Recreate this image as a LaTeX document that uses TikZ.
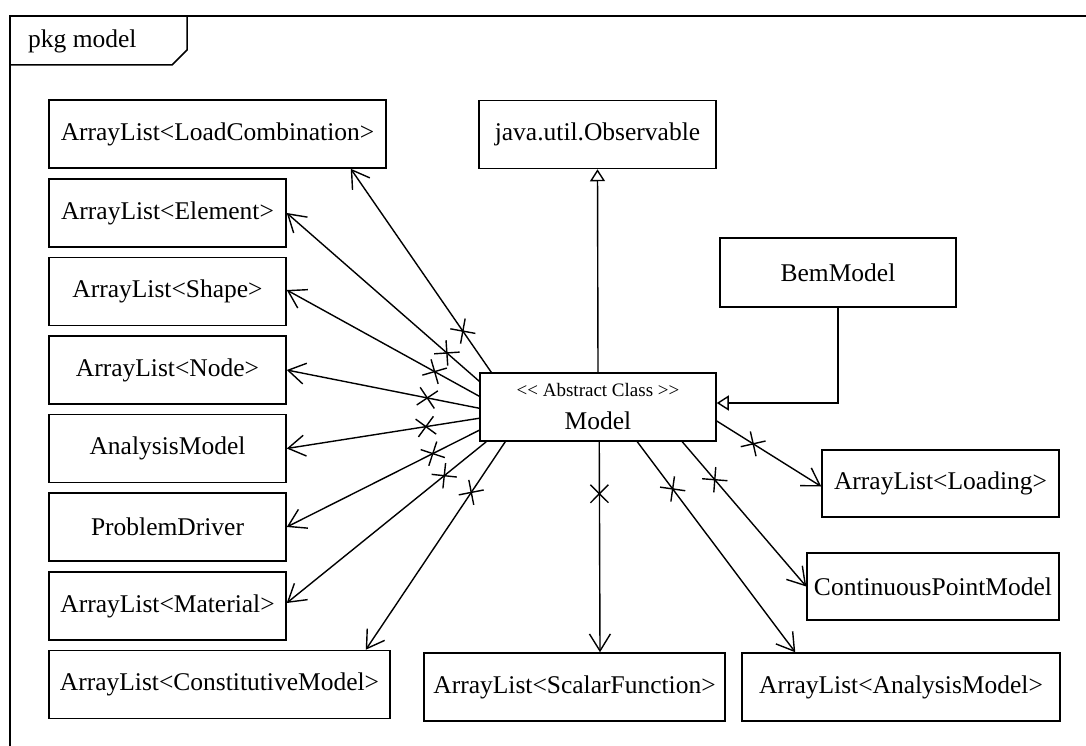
\documentclass[tikz,border=0pt]{standalone}
\usepackage{fontspec}
\setmainfont{Liberation Serif}
\newfontfamily\umlfont{Liberation Serif}
\usetikzlibrary{arrows.meta,decorations.markings}

\tikzset{
  txt/.style={font=\umlfont\fontsize{25.5}{30}\selectfont},
  cls/.style={draw, line width=1.5pt, inner sep=0pt, minimum height=68pt, txt},
  link/.style={line width=1.4pt},
  nav/.style={link, -{Straight Barb[length=17pt,width=21pt]},
    postaction={decorate, decoration={markings,
      mark=at position #1 with {\draw[-,line width=1.4pt] (-9,-9)--(9,9) (-9,9)--(9,-9);}}}},
  gen/.style={link, -{Triangle[open,length=12pt,width=15pt]}}
}

\begin{document}
\begin{tikzpicture}[x=1pt,y=-1pt]
\useasboundingbox (0,0) rectangle (1086,746);

% package frame and its name tab
\draw[line width=1.5pt] (1086,16) -| (10,746);
\draw[line width=1.5pt] (10,65) -- (172,65) -- (187,50) -- (187,16);
\node[anchor=base west, inner sep=0pt, txt] (pkg) at (28,48) {pkg model};

% classes on the left
\node[cls, minimum width=337pt] (lc)  at (217.5,134)   {ArrayList<LoadCombination>};
\node[cls, minimum width=237pt] (el)  at (167.5,213)   {ArrayList<Element>};
\node[cls, minimum width=237pt] (sh)  at (167.5,291.5) {ArrayList<Shape>};
\node[cls, minimum width=237pt] (nd)  at (167.5,370)   {ArrayList<Node>};
\node[cls, minimum width=237pt] (am)  at (167.5,448.5) {AnalysisModel};
\node[cls, minimum width=237pt] (pd)  at (167.5,527)   {ProblemDriver};
\node[cls, minimum width=237pt] (mat) at (167.5,606)   {ArrayList<Material>};
\node[cls, minimum width=341pt] (cm)  at (219.5,684.5) {ArrayList<ConstitutiveModel>};

% centre column and right side
\node[cls, minimum width=237pt] (obs) at (597.5,134.5) {java.util.Observable};
\node[cls, minimum width=236pt, minimum height=69pt] (bem) at (838,272.5) {BemModel};
\node[cls, minimum width=236pt, align=center] (model) at (598,407)
  {{\fontsize{19}{22}\selectfont <\kern0pt< Abstract Class >\kern0pt>}\\[3pt]Model};
\node[cls, minimum width=237pt, minimum height=67pt] (ld) at (940.5,483.5) {ArrayList<Loading>};
\node[cls, minimum width=252pt, minimum height=67pt] (cp) at (933,586.5) {ContinuousPointModel};
\node[cls, minimum width=301pt] (sf)  at (574.5,687) {ArrayList<ScalarFunction>};
\node[cls, minimum width=318pt] (aml) at (901,687)   {ArrayList<AnalysisModel>};

% generalizations
\draw[gen] (model.north) -- (obs.south);
\draw[gen] (bem.south) |- ([yshift=4pt]model.east);

% navigable associations
\draw[nav=50pt] ([xshift=12pt]model.north west) -- ([xshift=-36pt]lc.south east);
\draw[nav=43pt] ([yshift=-9pt]model.north west)  -- (el.east);
\draw[nav=51pt] ([yshift=-24pt]model.north west) -- ([yshift=1.5pt]sh.east);
\draw[nav=53pt] ([yshift=-36pt]model.north west) -- (nd.east);
\draw[nav=54pt] ([yshift=-46pt]model.north west) -- (am.east);
\draw[nav=52pt] ([yshift=-58pt]model.north west) -- (pd.east);
\draw[nav=54pt] ([xshift=7pt]model.south west)   -- ([yshift=3pt]mat.east);
\draw[nav=61pt] ([xshift=26pt]model.south west)  -- ([xshift=-25pt]cm.north east);
\draw[nav=52pt] ([xshift=120pt]model.south west) -- ([xshift=25.5pt]sf.north);
\draw[nav=59pt] ([xshift=158pt]model.south west) -- ([xshift=54pt]aml.north west);
\draw[nav=50pt] ([xshift=203pt]model.south west) -- (cp.west);
\draw[nav=43pt] ([yshift=-14pt]model.east)       -- ([yshift=-3pt]ld.west);
\end{tikzpicture}
\end{document}
